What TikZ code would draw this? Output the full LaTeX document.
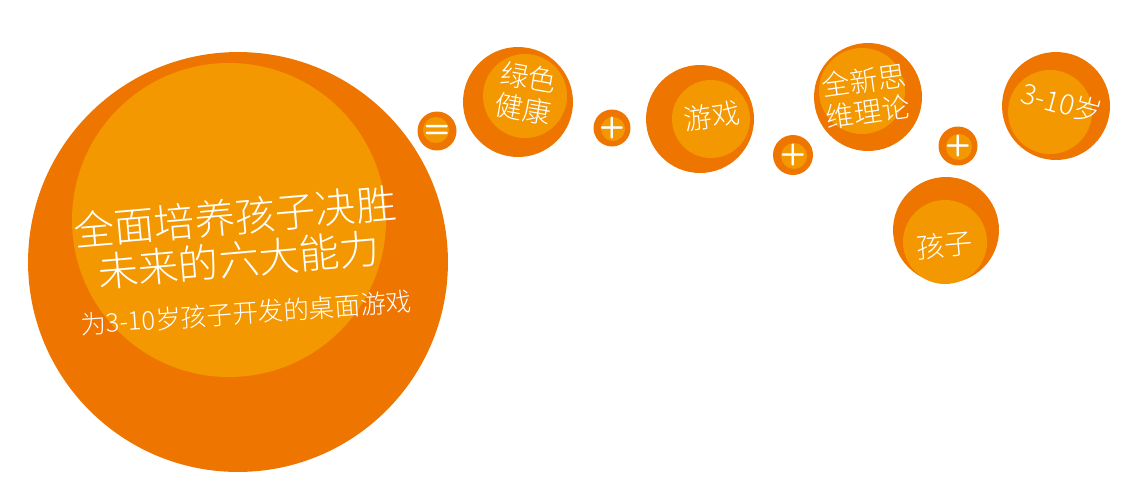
\documentclass[tikz,border=0pt]{standalone}
\usepackage{fontspec}
\usepackage{tikz}
\newfontfamily\cjk{Noto Sans CJK SC}[UprightFont={* Light}]
\definecolor{BallDark}{HTML}{EE7600}
\definecolor{BallLight}{HTML}{F39800}
\tikzset{
  ball/.style={circle,fill=BallDark,inner sep=0pt},
  balltext/.style={text=white,align=center,inner sep=0pt,font=\cjk\fontsize{16}{18}\selectfont},
  signtext/.style={text=white,inner sep=0pt,font=\sffamily\bfseries\fontsize{17}{17}\selectfont}
}
\begin{document}
\begin{tikzpicture}[x=0.02cm,y=0.02cm]
\path[use as bounding box] (0,0) rectangle (1141,478);
\node[ball,minimum size=8.4cm] (whole) at (238,216) {};
\fill[BallLight] (229,258) circle (157);
\node[balltext,rotate=5,font=\cjk\fontsize{23}{24.5}\selectfont] (head) at (237,240) {全面培养孩子决胜\\未来的六大能力};
\node[balltext,rotate=4,font=\cjk\fontsize{14.6}{15}\selectfont] (subhead) at (246,165) {为3-10岁孩子开发的桌面游戏};
\node[ball,minimum size=0.78cm] (equal) at (437,347) {};
\fill[BallLight] (436,348) circle (13);
\node[signtext] (equalsign) at (437,347) {=};
\node[ball,minimum size=2.2cm] (green) at (518,376) {};
\fill[BallLight] (525,382) circle (42);
\node[balltext,rotate=-10] (greentext) at (526,385) {绿色\\健康};
\node[ball,minimum size=0.74cm] (plusA) at (612,350) {};
\fill[BallLight] (613,349) circle (12);
\node[signtext] (plusAsign) at (612,350) {+};
\node[ball,minimum size=2.16cm] (game) at (700,359) {};
\fill[BallLight] (711,359) circle (39);
\node[balltext,rotate=8] (gametext) at (712,362) {游戏};
\node[ball,minimum size=0.8cm] (plusB) at (793,323) {};
\fill[BallLight] (794,322) circle (13);
\node[signtext] (plusBsign) at (793,323) {+};
\node[ball,minimum size=2.16cm] (theory) at (868,381) {};
\fill[BallLight] (862,387) circle (43);
\node[balltext,rotate=8] (theorytext) at (866,382) {全新思\\维理论};
\node[ball,minimum size=0.78cm] (plusC) at (958,332) {};
\fill[BallLight] (959,331) circle (13);
\node[signtext] (plusCsign) at (958,332) {+};
\node[ball,minimum size=2.16cm] (age) at (1056,372) {};
\fill[BallLight] (1050,366) circle (42);
\node[balltext,rotate=-15] (agetext) at (1062,375) {3-10岁};
\node[ball,minimum size=2.12cm] (child) at (946,248) {};
\fill[BallLight] (945,236) circle (42);
\node[balltext,rotate=5] (childtext) at (945,233) {孩子};
\end{tikzpicture}
\end{document}
